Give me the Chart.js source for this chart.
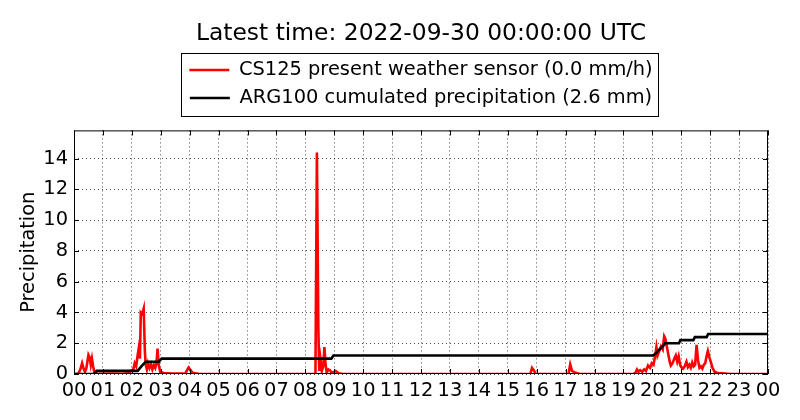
<!DOCTYPE html>
<html>
<head>
<meta charset="utf-8">
<script src="https://cdn.jsdelivr.net/npm/chart.js@4"></script>
<style>
  html, body { margin: 0; padding: 0; background: #fff; }
  #wrap { width: 800px; height: 420px; position: relative; }
</style>
</head>
<body>
<div id="wrap"><canvas id="precipChart"></canvas></div>
<script>
// Precipitation over the day (hours since 00:00 UTC)

const titleText = 'Latest time: 2022-09-30 00:00:00 UTC';
const redLabel = 'CS125 present weather sensor (0.0 mm/h)';
const blackLabel = 'ARG100 cumulated precipitation (2.6 mm)';

// CS125 rain rate samples
const redHours = [
  0.00, 0.15, 0.22, 0.28, 0.33, 0.38, 0.43, 0.50, 0.54, 0.58, 0.62, 0.66, 0.71, 0.85,
  1.30, 1.70, 1.90, 1.97, 2.05, 2.10, 2.15, 2.20, 2.25, 2.28, 2.31, 2.36, 2.41, 2.45,
  2.48, 2.52, 2.56, 2.61, 2.66, 2.71, 2.76, 2.81, 2.85, 2.89, 2.93, 2.98, 3.10, 3.40,
  3.85, 3.96, 4.03, 4.10, 4.30, 4.50,
  8.35, 8.40, 8.45, 8.48, 8.52, 8.57, 8.62, 8.66, 8.70, 8.74, 8.80, 8.85, 8.90, 9.00,
  9.05, 9.15, 9.30,
  15.78, 15.84, 15.90, 15.96, 17.10, 17.16, 17.22, 17.30, 17.40, 17.50,
  19.35, 19.42, 19.47, 19.52, 19.58, 19.65, 19.72, 19.78, 19.85, 19.92, 19.98, 20.04,
  20.09, 20.14, 20.18, 20.24, 20.30, 20.36, 20.41, 20.45, 20.50, 20.55, 20.60, 20.64,
  20.70, 20.76, 20.81, 20.86, 20.91, 20.96, 21.00, 21.06, 21.12, 21.18, 21.23, 21.28,
  21.33, 21.38, 21.43, 21.48, 21.53, 21.58, 21.63, 21.68, 21.73, 21.78, 21.83, 21.88,
  21.92, 21.97, 22.02, 22.08, 22.15, 22.22, 22.30, 22.45, 22.60, 22.75, 24.00
];
const redValues = [
  0, 0.02, 0.3, 0.7, 0.35, 0.15, 0.4, 1.25, 1.1, 0.6, 1.0, 0.5, 0.05, 0.02,
  0.03, 0.02, 0.06, 0.2, 0.3, 0.7, 0.5, 1.2, 1.8, 1.0, 4.0, 3.9, 4.25, 1.5,
  0.6, 0.3, 0.7, 0.4, 0.65, 0.3, 0.6, 0.4, 0.7, 1.65, 0.6, 0.15, 0.06, 0.03,
  0.04, 0.42, 0.25, 0.08, 0.02, 0,
  0, 14.4, 3.0, 0.2, 1.0, 0.2, 0.5, 1.75, 0.6, 0.1, 0.3, 0.25, 0.1, 0.15,
  0.2, 0.05, 0,
  0, 0.4, 0.25, 0.02, 0, 0.62, 0.2, 0.12, 0.05, 0,
  0, 0.1, 0.3, 0.15, 0.25, 0.15, 0.3, 0.2, 0.55, 0.4, 0.7, 0.6,
  1.1, 1.75, 1.2, 1.5, 1.8, 1.6, 2.45, 2.3, 1.8, 1.3, 0.8, 0.55,
  0.7, 1.0, 1.2, 0.8, 1.15, 0.6, 0.45, 0.35, 0.5, 0.8, 0.45, 0.6,
  0.4, 0.75, 0.5, 0.6, 1.9, 0.9, 0.4, 0.5, 0.35, 0.6, 0.7, 1.2,
  1.5, 1.1, 0.8, 0.4, 0.15, 0.1, 0.05, 0.04, 0.02, 0, 0
];

// ARG100 cumulated amount
const blackHours = [
  0, 0.70, 0.78, 2.20, 2.33, 2.48, 2.93, 3.03, 8.90, 8.97, 20.03, 20.15,
  20.25, 20.35, 20.45, 20.92, 20.97, 21.42, 21.47, 21.88, 21.93, 24
];
const blackValues = [
  0, 0, 0.2, 0.2, 0.5, 0.8, 0.8, 1.0, 1.0, 1.2, 1.2, 1.4,
  1.6, 1.8, 2.0, 2.0, 2.2, 2.2, 2.4, 2.4, 2.6, 2.6
];

const xTickHours = [0, 1, 2, 3, 4, 5, 6, 7, 8, 9, 10, 11, 12, 13, 14, 15, 16, 17, 18, 19, 20, 21, 22, 23, 24];
const xTickLabels = ['00', '01', '02', '03', '04', '05', '06', '07', '08', '09', '10', '11',
  '12', '13', '14', '15', '16', '17', '18', '19', '20', '21', '22', '23', '00'];
const yTicks = [0, 2, 4, 6, 8, 10, 12, 14];
const yMax = 15.84;

Chart.defaults.font.family = '"DejaVu Sans", sans-serif';
Chart.defaults.color = '#000';

// frame, inward tick marks and a box round the legend (matplotlib look)
const framePlugin = {
  id: 'frame',
  beforeInit(chart) {
    // extra gap between legend and plot
    if (chart.legend && !chart.legend._patched) {
      const origFit = chart.legend.fit;
      chart.legend.fit = function () {
        origFit.call(this);
        this.height += 12.7;
      };
      chart.legend._patched = true;
    }
  },
  afterDraw(chart) {
    const ctx = chart.ctx;
    const a = chart.chartArea;
    ctx.save();
    ctx.strokeStyle = '#000';
    ctx.lineWidth = 1;
    ctx.strokeRect(a.left + 0.5, a.top + 0.5, a.right - a.left - 1, a.bottom - a.top - 1);

    ctx.beginPath();
    chart.scales.x.ticks.forEach(t => {
      const px = Math.round(chart.scales.x.getPixelForValue(t.value)) + 0.5;
      ctx.moveTo(px, a.bottom); ctx.lineTo(px, a.bottom - 5);
      ctx.moveTo(px, a.top); ctx.lineTo(px, a.top + 5);
    });
    chart.scales.y.ticks.forEach(t => {
      const py = Math.round(chart.scales.y.getPixelForValue(t.value)) + 0.5;
      ctx.moveTo(a.left, py); ctx.lineTo(a.left + 5, py);
      ctx.moveTo(a.right, py); ctx.lineTo(a.right - 5, py);
    });
    ctx.stroke();

    const boxes = chart.legend.legendHitBoxes;
    if (boxes && boxes.length) {
      let l = Infinity, r = -Infinity, t = Infinity, b = -Infinity;
      boxes.forEach(hb => {
        l = Math.min(l, hb.left); r = Math.max(r, hb.left + hb.width);
        t = Math.min(t, hb.top); b = Math.max(b, hb.top + hb.height);
      });
      ctx.strokeRect(Math.round(l - 8) + 0.5, Math.round(t - 7) + 0.5,
        Math.round(r - l + 14), Math.round(b - t + 16));
    }
    ctx.restore();
  }
};

new Chart(document.getElementById('precipChart'), {
  type: 'line',
  data: {
    datasets: [
      {
        label: redLabel,
        data: redHours.map((h, i) => ({ x: h, y: redValues[i] })),
        borderColor: '#ff0000',
        backgroundColor: '#ff0000',
        borderWidth: 2.6,
        pointRadius: 0,
        tension: 0,
        order: 2
      },
      {
        label: blackLabel,
        data: blackHours.map((h, i) => ({ x: h, y: blackValues[i] })),
        borderColor: '#000000',
        backgroundColor: '#000000',
        borderWidth: 2.6,
        pointRadius: 0,
        tension: 0,
        order: 1
      }
    ]
  },
  options: {
    responsive: true,
    maintainAspectRatio: false,
    animation: false,
    layout: { padding: { left: 14, right: 32, top: 0, bottom: 0 } },
    scales: {
      x: {
        type: 'linear',
        min: 0,
        max: 24,
        afterBuildTicks: axis => { axis.ticks = xTickHours.map(v => ({ value: v })); },
        afterFit: scale => { scale.height = 46; },
        ticks: {
          autoSkip: false,
          maxRotation: 0,
          padding: 5,
          font: { size: 19.4 },
          callback: (v, i) => xTickLabels[i]
        },
        grid: { color: 'rgba(0,0,0,0.7)', drawTicks: false, lineWidth: 1 },
        border: { display: false, dash: [1, 3] }
      },
      y: {
        min: 0,
        max: yMax,
        afterBuildTicks: axis => { axis.ticks = yTicks.map(v => ({ value: v })); },
        afterFit: scale => { scale.width = 60; },
        ticks: { padding: 6, font: { size: 19.4 } },
        grid: { color: 'rgba(0,0,0,0.7)', drawTicks: false, lineWidth: 1 },
        border: { display: false, dash: [1, 3] },
        title: { display: true, text: 'Precipitation', font: { size: 19.4 }, padding: { top: 3.4, bottom: 2 } }
      }
    },
    plugins: {
      title: {
        display: true,
        text: titleText,
        fullSize: false,
        font: { size: 23.4, weight: 'normal' },
        color: '#000',
        padding: { top: 20, bottom: 3.6 }
      },
      legend: {
        display: true,
        position: 'top',
        fullSize: false,
        labels: {
          usePointStyle: true,
          pointStyle: 'line',
          pointStyleWidth: 40,
          padding: 8.6,
          color: '#000',
          font: { size: 19.4 },
          sort: (a, b) => a.datasetIndex - b.datasetIndex
        }
      },
      tooltip: { enabled: false }
    }
  },
  plugins: [framePlugin]
});
</script>
</body>
</html>
